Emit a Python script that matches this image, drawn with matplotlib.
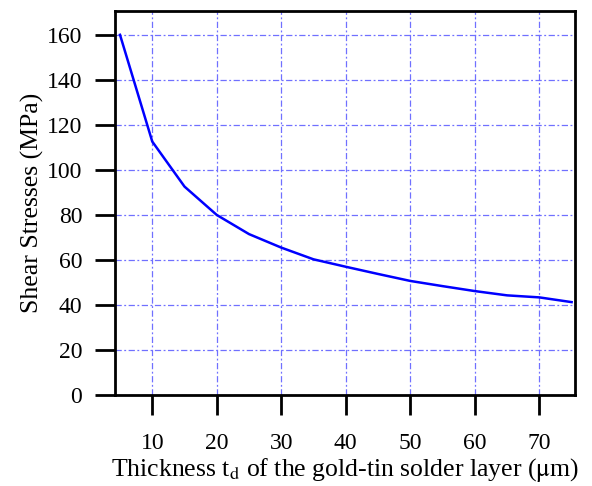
import numpy as np
import matplotlib
matplotlib.use("Agg")
import matplotlib.pyplot as plt

# thickness of solder layer (um) vs shear stress (MPa)
thickness = [5, 10, 15, 20, 25, 30, 35, 40, 45, 50, 55, 60, 65, 70, 75]
shear = [160, 112.6, 92.6, 80, 71.5, 65.5, 60.3, 57, 53.8, 50.7, 48.4, 46.2, 44.3, 43.4, 41.3]

xticks = [10, 20, 30, 40, 50, 60, 70]
yticks = [0, 20, 40, 60, 80, 100, 120, 140, 160]

plt.rcParams['font.family'] = ['Liberation Serif', 'DejaVu Serif']
plt.rcParams['mathtext.fontset'] = 'stix'

fig = plt.figure(figsize=(5.92, 4.86), dpi=100)
ax = fig.add_axes([0.194, 0.187, 0.777, 0.790])

ax.plot(thickness, shear, color='#0000ff', lw=1.8, zorder=3)

ax.set_xlim(4.2, 75.5)
ax.set_ylim(0, 170.5)
ax.set_xticks(xticks)
ax.set_yticks(yticks)

# dash-dot blue grid
ax.grid(True, color='#7070ff', lw=0.9, linestyle=(0, (5, 2, 1.5, 2)))

for s in ax.spines.values():
    s.set_linewidth(2)
    s.set_color('black')

ax.tick_params(direction='out', length=14.5, width=2, labelsize=17, pad=9, colors='black')
ax.tick_params(axis='x', pad=13)

ax.set_ylabel('Shear Stresses (MPa)', fontsize=18.5, labelpad=2)
ax.set_xlabel(r'Thickness t$_\mathrm{d}$ of the gold-tin solder layer ($\mathrm{\mu}$m)', fontsize=18.5, labelpad=1)

fig.savefig('out.png', dpi=100)
